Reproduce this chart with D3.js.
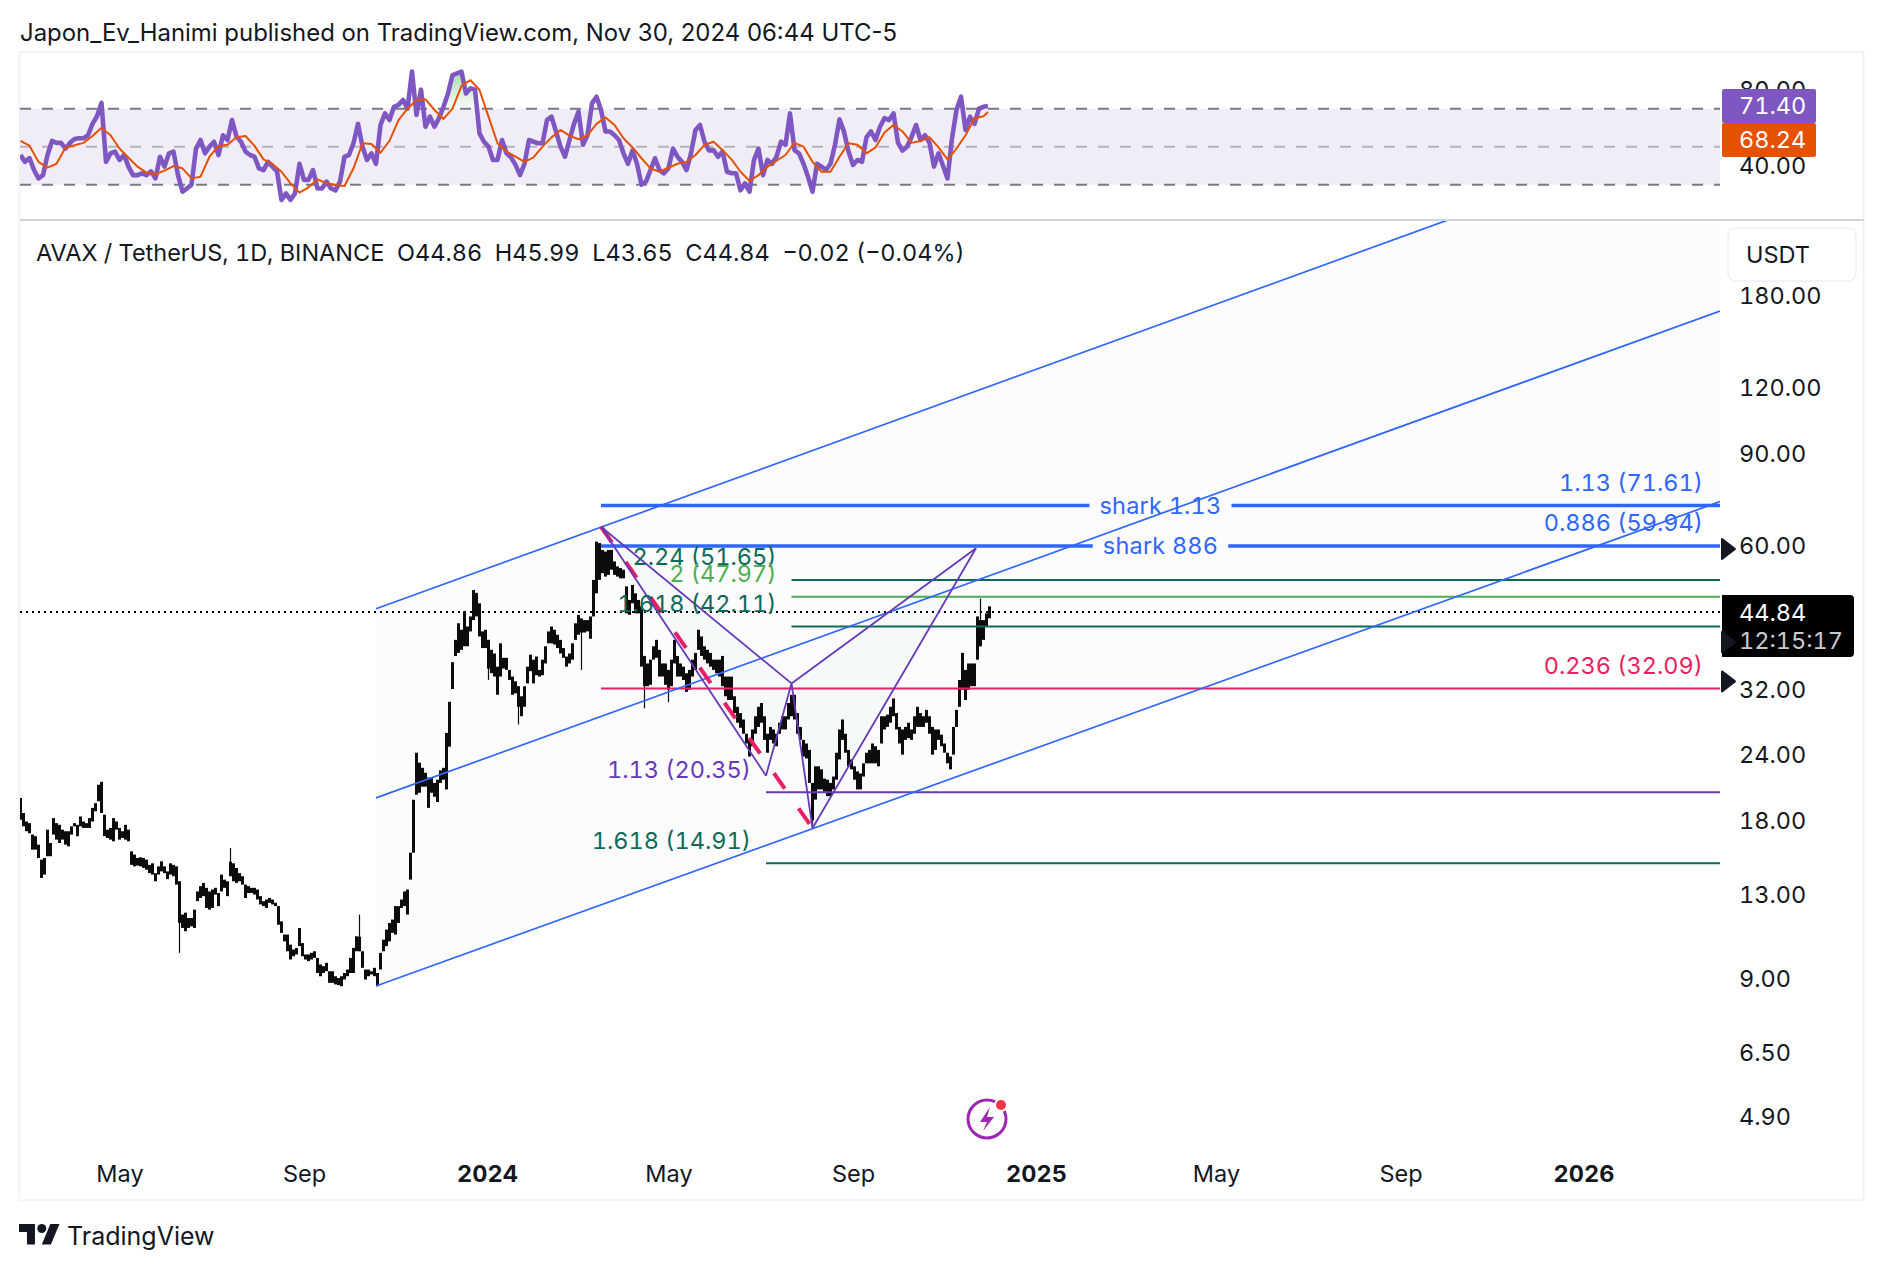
<!DOCTYPE html>
<html><head><meta charset="utf-8">
<script src="https://cdn.jsdelivr.net/npm/d3@7"></script>
<style>
html,body{margin:0;padding:0;background:#fff}
svg{display:block}
text{font-family:Inter,"Noto Sans",sans-serif;fill:#131722;white-space:pre;font-feature-settings:"tnum"}
.tick text{font-family:Inter,"Noto Sans",sans-serif}
</style></head><body><svg id="c" width="1884" height="1270"></svg>
<script>
// ---------- DATA ----------
const priceStart="2023-02-24", priceStepDays=2;
const priceHigh=[
19.85,18.58,17.9,17.77,16.9,16.78,16.17,15.14,15.25,17.27,
16.29,18.17,17.77,17.64,17.27,17.15,17.15,17.52,17.77,17.64,
18.3,17.9,17.77,18.17,19,19.4,21.03,21.3,18.44,17.27,
17.4,18.17,17.9,17.4,17.15,17.64,17.27,15.7,15.48,15.25,
15.3,15.25,15.14,14.8,14.9,14.27,14.7,15.03,14.7,14.38,
14.9,14.8,14.7,13.77,11.9,12,11.72,11.72,12.16,13.17,
13.48,13.67,13.38,13.17,13.28,13.38,13.08,14.18,13.87,13.77,
15.0,14.9,14.6,14.27,14.08,13.57,13.48,13.38,13.38,13.28,
12.9,12.62,12.71,12.8,12.71,12.53,12.35,11.55,10.9,10.9,
10.43,10.21,10.28,11.22,10.5,9.99,9.99,10.06,10.13,9.84,
9.56,9.49,9.63,9.28,9.28,9.08,9.01,9.08,9.21,9.35,
9.84,10.28,10.82,10.8,10.13,9.35,9.35,9.28,9.42,9.21,
10.06,10.66,11.14,11.47,11.64,12.35,12.35,12.71,13.17,13.28,
15.61,19.69,24.2,23.17,22.65,22.16,21.7,21.7,21.2,21.5,
22.4,22.65,26.4,30.26,36,39.7,42.7,41.5,45,42.1,
44,49.4,48.8,46.6,41.2,41.5,39.7,38,37.4,35.3,
39.1,36.7,36.7,34.8,33.8,33.1,32.4,31,32.4,35.3,
37.2,36.4,36.9,34.8,36.4,38.6,41.2,42.1,41.5,40.6,
39.7,38.3,36.9,37.4,39.1,42.7,44.3,43.6,43.3,43.3,
44,51.65,61.1,60.7,58.9,58.5,58.9,58.9,56,54.8,
54.4,54,50.2,47.3,50.5,48.7,47.3,46,37,35.8,
36.4,38.6,39.7,38,35.8,35.8,34.8,36.4,39.7,37,
35.8,35.3,34.3,34.8,36.4,37.5,41.5,40.3,38.6,38,
37.5,36.4,36.4,36.4,37,33.8,33.8,33.8,31,29.6,
28.8,28,26.3,25.6,26.8,28.4,29.6,30.1,28.4,26.3,
27.1,26.8,26.3,27.6,28.4,28.4,30.1,31.2,31.2,28.8,
27.1,25.6,25.2,24.5,21.2,22.8,22.8,22.5,21.6,21.5,
21.2,21.8,24.2,26.8,28,26.3,24.5,23.5,22.8,22.3,
22.1,23.1,24.2,24.5,25.2,24.9,24.5,28.4,28.4,28.6,
29.6,30.7,28.8,27.1,26.8,27.1,27.6,26.8,28.4,29.6,
28.8,28.4,29.2,28.4,27.1,26.8,26.8,26.2,25.2,24.2,
23.8,27.1,29.2,33.3,37.5,34.8,35.8,35.8,35.8,44,
43.3,43.3,44.6,45.99];
const priceLow=[
18.04,17.52,17.15,17.0,15.82,15.82,15.25,13.97,14.18,15.37,
15.37,16.9,16.53,16.29,16.53,16.17,16.05,16.9,17.52,16.78,
17.52,17.4,17.4,17.4,17.9,18.72,19.56,18.58,16.78,16.65,
16.53,16.41,17.27,16.53,16.65,16.53,16.41,14.8,14.7,14.75,
14.7,14.6,14.49,14.27,14.18,13.77,14.18,14.38,14.27,13.9,
14.18,14.08,13.57,11.47,11.22,11.06,11.22,11.3,11.22,12.62,
12.8,12.9,12.25,12.16,12.25,12.99,12.35,13.17,13.38,12.9,
14.08,13.77,13.67,13.77,13.57,12.8,13.08,13.08,12.99,12.71,
12.44,12.35,12.25,12.53,12.44,12.35,11.38,10.98,10.58,10.13,
9.77,9.91,9.99,10.36,9.91,9.77,9.7,9.77,9.84,9.21,
9.08,9.21,9.28,8.82,8.82,8.76,8.73,8.69,8.95,9.08,
9.21,9.21,10.13,10.13,9.42,8.95,9.08,9.15,9.08,8.69,
9.35,10.13,10.36,10.58,10.98,10.9,11.47,12.25,12.35,11.9,
13.87,15.61,20.13,20.3,20.85,20.85,19.0,20.3,19.95,19.5,
21.2,21.5,20.6,24.85,32,37,37.5,38,38.6,38.6,
41.2,43.3,44,40.3,38.3,38.3,35,34.3,33.8,31.2,
33.8,35,34.8,33.3,31.2,31.4,29.6,28.4,29.6,32.8,
34.6,32.8,34,33.8,34,35.8,39.1,39.1,38.9,38.3,
37.4,36.7,35.3,35.8,36.4,39.7,40.6,41,41,41.2,
39.9,44,48.7,51.65,53.2,52.4,52.8,54,52.8,52.4,
52,52,44.6,44.3,46.6,44.6,44.6,35.3,32.4,32.4,
32.6,36.4,36.7,33.8,33.8,32.6,31.9,32.4,35.8,33.8,
33.8,33.3,31.6,31.9,33.8,34.8,38,37,36.4,35.8,
35.3,34.8,34.3,33.8,32.4,31,30.5,30.5,28.8,27.6,
27,26.3,25.2,23.8,24.9,26.3,27.1,27.6,25.6,24.2,
25.6,25.2,24.9,26.3,26.8,26.8,28,28.4,28,26.3,
25.6,23.8,23.6,21.2,18,19.7,20.6,20.6,20.4,20,
20,20.6,21.5,23.5,25.6,24.2,22.8,22.5,21.5,20.6,
20.6,21.8,23.1,23.1,23.1,23.1,22.8,25.2,26.8,27.1,
27.6,28.4,26.8,25.2,24,25.6,25.8,25.6,26.3,27.1,
27.1,27.1,27.6,26.3,24,24.5,25.6,24.9,24.2,23.1,
22.5,24,27.1,29.6,31.9,30.5,31.9,32.4,32.4,36.4,
38.6,39.7,42.1,43.65];
const wickBar=[53,70,113,156,166,187,208,216,264,320];
const wickHigh=[13.77,15.93,11.9,39.7,32.4,43.6,37,34.8,21.2,47.6];
const wickLow=[10.06,14.08,10.13,33.3,27.4,34.8,29.4,30.2,17.4,38.6];
const lastClose=44.84;

const rsiStepDays=3;
const rsiValues=[
45.6,42,44,37.7,33.3,35,45.6,53,52,52,49,52,54,54.4,54.4,56,62,66,73,42,
46.5,47.4,43,45.6,39.5,35,35,36,35,37,33.3,44.7,39.5,46.5,47.4,35,26.3,28,30,49,
53.5,46.5,50,52.6,45.6,56,53.5,64,55.3,52.6,47.4,45.6,44.7,38.6,37.7,42,39.5,37,22,25.4,
22,25.4,41,32.5,32.5,37.7,28,28,31.6,28,27,31.6,44.7,45.6,51.8,62,50,43,46.5,41,
61.4,67.5,64,71,72,74.6,70,89.5,66.7,80,60.5,65.8,60.5,65,71,78,87.7,88.6,89.5,78,
80.7,80,57,52.6,50,43,43,53.5,46.5,44.4,40.4,35,41,53.5,52.6,51.8,51.8,64,65.8,58,
50,44.7,53.5,62,68.4,51,56,72.8,76.3,69.3,58,58,56,53.5,46.5,41,48,41,30,31.6,
37.7,43.9,37.7,36,38.6,49,44.7,42,37.7,46.5,58.8,61.4,52.6,48,48.2,44.7,47.4,36.8,36,36,
27,30.7,26.3,43,49,35,43,41,44.7,52.6,51,67.5,48.2,46.5,41,34.2,26.3,41,39.5,37.7,
41,51,64.4,57.9,47.4,40.4,43,42,55,58,53.5,60.5,65,64,67.5,52,48,50,55,61.4,
53.5,56,52,39.5,46.5,40,33.3,54.4,69.3,76.3,58.8,65.8,62,70,71,71.4];
const maStepDays=6;
const rsiMaValues=[
53,50.5,42,39,41,49.6,50.7,52,55.6,60,56,49,44.2,39.5,36.3,35.6,37.4,39.8,38.6,33.3,
34.2,44.7,50.4,51,55,55.6,50.4,43.3,40.9,36.8,30.7,25.8,28.6,32.8,30.7,29.8,29.3,38.6,51.8,51.4,
46.8,53,64,70,74.6,74.9,69.3,64.6,70,82,85,79.8,65.8,51.8,47.4,44.7,42,44.4,50,54.9,
58.8,55.8,53.9,56,62,65.4,61.4,54.4,49.6,43.9,38.6,36.8,38.9,41,42,45.6,50.9,52.6,48.2,43.3,
36.8,32,35,39.5,42.6,45.6,52,50,42,36.8,36.8,44.7,51.8,51,46.5,49.6,57.4,61.4,58,52,
53,55,49.6,43.3,49,56,65,66];
const rsiLast=71.40, rsiMaLast=68.24, lastDate="2024-11-30";
const rsiLevels=[70,50,30];
const rsiTicks=[80,40];

const priceTicks=[180,120,90,60,32,24,18,13,9,6.5,4.9];
const timeTicks=["2023-05-01","2023-09-01","2024-01-01","2024-05-01","2024-09-01","2025-01-01","2025-05-01","2025-09-01","2026-01-01"];

const channelDates=["2023-10-19","2026-04-02"];
const channelTop=[45.5,386];
const channelMid=[19.85,168];
const channelBottom=[8.70,72.8];

const patternDates=["2024-03-17","2024-07-05","2024-07-22","2024-08-05","2024-11-22"];
const patternPrices=[65.2,21.88,32.8,17.38,59.34];

const levelPrice=[71.61,59.94,51.65,47.97,42.11,32.09,20.35,14.91];
const levelRatio=["1.13","0.886","2.24","2","1.618","0.236","1.13","1.618"];
const levelStart=["2024-03-17","2024-03-17","2024-07-22","2024-07-22","2024-07-22","2024-03-17","2024-07-05","2024-07-05"];
const levelLabelRight=[true,true,false,false,false,true,false,false];
const sharkNames=["shark 1.13","shark 886"];
const sharkPrices=[71.61,59.94];
const sharkDate="2025-03-25";
const headerText="Japon_Ev_Hanimi published on TradingView.com, Nov 30, 2024 06:44 UTC-5";
const legendText="AVAX / TetherUS, 1D, BINANCE  O44.86  H45.99  L43.65  C44.84  −0.02 (−0.04%)";

// ---------- LAYOUT / STYLE ----------
const L=20,R=1720,FR=1864,TOP=53,SEP=220,BOT=1199,PB=1160;
const levelColor=["#2f66ff","#2f66ff","#0d6a58","#4caf50","#0d6a58","#e91e63","#673ab7","#0d6a58"];
const fs=23.5;
const d=s=>new Date(s+"T00:00:00Z");
const svg=d3.select("#c");
const x=d3.scaleUtc().domain([d(priceStart),d("2026-04-02")]).range([L+0.5,R]);
const y=d3.scaleLog().domain([4.055,249.3]).range([PB,221]);
const ry=d3.scaleLinear().domain([11.4,99.3]).range([SEP,TOP]);
const add=(s,n)=>d3.utcDay.offset(d(s),n);
const T=(sel,px,py,str,o={})=>sel.append("text").attr("x",px).attr("y",py).attr("dy",".36em")
  .attr("text-anchor",o.a||"start").attr("font-size",o.s||fs).attr("font-weight",o.w||400)
  .style("fill",o.c||"#131722").style("letter-spacing",o.ls||null).style("font-feature-settings",o.pf?"normal":null).text(str);

const defs=svg.append("defs");
defs.append("clipPath").attr("id","plot").append("rect").attr("x",L).attr("y",221).attr("width",R-L).attr("height",PB-221);
defs.append("clipPath").attr("id","rsi").append("rect").attr("x",L).attr("y",TOP).attr("width",R-L).attr("height",SEP-TOP);
const grad=defs.append("linearGradient").attr("id","ob").attr("x1",0).attr("x2",0).attr("y1",0).attr("y2",1);
grad.append("stop").attr("offset",0).attr("stop-color","#66bb6a").attr("stop-opacity",.55);
grad.append("stop").attr("offset",1).attr("stop-color","#66bb6a").attr("stop-opacity",.03);

// header + frame
T(svg,20,32,headerText,{s:23.95,pf:true});
svg.append("rect").attr("x",L-0.5).attr("y",TOP-1).attr("width",FR-L).attr("height",BOT-TOP+2).attr("fill","none").attr("stroke","#f0f3fa").attr("stroke-width",2);
svg.append("line").attr("x1",L).attr("x2",FR).attr("y1",SEP).attr("y2",SEP).attr("stroke","#d1d4dc").attr("stroke-width",2);

// RSI pane
const rsiG=svg.append("g");
rsiG.append("rect").attr("x",L).attr("width",R-L).attr("y",ry(70)).attr("height",ry(30)-ry(70)).attr("fill","#f0edf8");
rsiG.selectAll("line.lv").data(rsiLevels).join("line").attr("class","lv").attr("x1",L).attr("x2",R)
  .attr("y1",ry).attr("y2",ry).attr("stroke-width",2).attr("stroke-dasharray","11 11")
  .attr("stroke",v=>v===50?"#b4b3bd":"#787b86");
const rsiData=rsiValues.map((v,i)=>({t:add(priceStart,i*rsiStepDays),v}));
const obData=rsiData.slice(94,102);
rsiG.append("path").datum(obData).attr("fill","url(#ob)")
  .attr("d",d3.area().x(p=>x(p.t)).y0(ry(70)).y1(p=>ry(Math.max(p.v,70))));
const rsiLine=d3.line().x(p=>x(p.t)).y(p=>ry(p.v));
const rG=rsiG.append("g").attr("clip-path","url(#rsi)");
rG.append("path").datum(rsiData).attr("fill","none").attr("stroke","#7e57c2").attr("stroke-width",4.6).attr("stroke-linejoin","round").attr("d",rsiLine);
const maData=rsiMaValues.map((v,i)=>({t:add(priceStart,i*maStepDays),v})).concat([{t:d(lastDate),v:rsiMaLast}]);
rG.append("path").datum(maData).attr("fill","none").attr("stroke","#e65100").attr("stroke-width",2).attr("stroke-linejoin","round").attr("d",rsiLine);
const rAxis=svg.append("g").attr("transform",`translate(${R},0)`)
  .call(d3.axisRight(ry).tickValues(rsiTicks).tickSize(0).tickPadding(19).tickFormat(d3.format(".2f")));
rAxis.select(".domain").remove();
rAxis.selectAll("text").attr("font-size",fs).attr("dy",".34em");
const tag=(y0,y1,c,str)=>{svg.append("rect").attr("x",R+2).attr("y",y0).attr("width",94).attr("height",y1-y0).attr("rx",2).attr("fill",c);
  T(svg,R+19,(y0+y1)/2,str,{c:"#fff"});};
tag(ry(rsiLast)-17,ry(rsiLast)+17,"#7e57c2",rsiLast.toFixed(2));
tag(ry(rsiLast)+17,ry(rsiLast)+51,"#e65100",rsiMaLast.toFixed(2));

// main pane
const P=svg.append("g").attr("clip-path","url(#plot)");
const chPoly=[0,1].map(i=>[x(d(channelDates[i])),y(channelTop[i])]).concat([1,0].map(i=>[x(d(channelDates[i])),y(channelBottom[i])]));
P.append("polygon").attr("points",chPoly.join(" ")).attr("fill","#fcfcff");
const pat=patternDates.map((s,i)=>[x(d(s)),y(patternPrices[i])]);
[[0,1,2],[2,3,4]].forEach(tr=>P.append("polygon").attr("points",tr.map(i=>pat[i]).join(" ")).attr("fill","#f5f9fa"));

// candles
const barX=i=>x(add(priceStart,i*priceStepDays));
P.selectAll("line.bar").data(priceHigh).join("line").attr("class","bar")
  .attr("x1",(v,i)=>barX(i)).attr("x2",(v,i)=>barX(i)).attr("y1",v=>y(v)).attr("y2",(v,i)=>y(priceLow[i]))
  .attr("stroke","#0c0c0e").attr("stroke-width",3);
P.selectAll("line.wick").data(wickBar).join("line").attr("class","wick")
  .attr("x1",b=>barX(b)).attr("x2",b=>barX(b)).attr("y1",(b,i)=>y(wickHigh[i])).attr("y2",(b,i)=>y(wickLow[i]))
  .attr("stroke","#0c0c0e").attr("stroke-width",1.2);

// last price line
P.append("line").attr("x1",L).attr("x2",R).attr("y1",y(lastClose)).attr("y2",y(lastClose)).attr("stroke","#000").attr("stroke-width",2).attr("stroke-dasharray","2 4");

// levels (not shark)
levelPrice.forEach((p,i)=>{
  if(i<2) return;
  P.append("line").attr("x1",x(d(levelStart[i]))).attr("x2",R).attr("y1",y(p)).attr("y2",y(p)).attr("stroke",levelColor[i]).attr("stroke-width",2);
});
// shark lines with a gap for their text
sharkNames.forEach((nm,i)=>{
  const py=y(sharkPrices[i]), cx=x(d(sharkDate));
  const t=T(P,cx,py,nm,{a:"middle",c:"#2f66ff",ls:"0.2px"});
  const w=t.node().getComputedTextLength();
  [[x(d(levelStart[i])),cx-w/2-10],[cx+w/2+10,R]].forEach(s=>
    P.append("line").attr("x1",s[0]).attr("x2",s[1]).attr("y1",py).attr("y2",py).attr("stroke","#2f66ff").attr("stroke-width",3.5));
});
// channel lines
[channelTop,channelMid,channelBottom].forEach(c=>P.append("line")
  .attr("x1",x(d(channelDates[0]))).attr("y1",y(c[0])).attr("x2",x(d(channelDates[1]))).attr("y2",y(c[1]))
  .attr("stroke","#2f66ff").attr("stroke-width",1.7));
// pink dashed
P.append("line").attr("x1",pat[0][0]).attr("y1",pat[0][1]).attr("x2",pat[3][0]).attr("y2",pat[3][1])
  .attr("stroke","#e91e63").attr("stroke-width",4).attr("stroke-dasharray","19 24");
// pattern lines
[[0,1],[1,2],[0,2],[2,3],[3,4],[2,4]].forEach(([a,b])=>P.append("line")
  .attr("x1",pat[a][0]).attr("y1",pat[a][1]).attr("x2",pat[b][0]).attr("y2",pat[b][1])
  .attr("stroke","#673ab7").attr("stroke-width",1.8));
// level labels
levelPrice.forEach((p,i)=>{
  const ex=levelLabelRight[i]?R-17:x(d(levelStart[i]))-15;
  T(P,ex,y(p)-23,`${levelRatio[i]} (${p.toFixed(2)})`,{a:"end",c:levelColor[i]});
});

// legend
T(svg,36,253,legendText,{s:23.5});
// axes
const pAxis=svg.append("g").attr("transform",`translate(${R},0)`)
  .call(d3.axisRight(y).tickValues(priceTicks).tickSize(0).tickPadding(19).tickFormat(d3.format(".2f")));
pAxis.select(".domain").remove();
pAxis.selectAll("text").attr("font-size",fs).attr("dy",".34em");
const tAxis=svg.append("g").attr("transform","translate(0,1165.5)")
  .call(d3.axisBottom(x).tickValues(timeTicks.map(d)).tickSize(0).tickPadding(0)
    .tickFormat(t=>t.getUTCMonth()===0?d3.utcFormat("%Y")(t):d3.utcFormat("%b")(t)));
tAxis.select(".domain").remove();
tAxis.selectAll("text").attr("font-size",fs).attr("font-weight",t=>t.getUTCMonth()===0?700:400);

// USDT button
svg.append("rect").attr("x",1728).attr("y",228).attr("width",128).attr("height",53).attr("rx",8).attr("fill","#fff").attr("stroke","#f0f3fa").attr("stroke-width",2);
T(svg,1746,255,"USDT");
// last price box & arrows
const arrow=(py,c)=>svg.append("path").attr("d",`M${R+2} ${py-10}L${R+15} ${py}L${R+2} ${py+10}Z`).attr("fill",c).attr("stroke",c).attr("stroke-width",2).attr("stroke-linejoin","round");
arrow(y(59.94)+3,"#131722");arrow(y(32.09)-7,"#131722");
const by=y(lastClose)-17;
svg.append("path").attr("d",`M${R+2} ${by}H1850a4 4 0 0 1 4 4V${by+58}a4 4 0 0 1 -4 4H${R+2}Z`).attr("fill","#000");
arrow(by+47,"#131722");
T(svg,R+19,y(lastClose),lastClose.toFixed(2),{c:"#fff"});
T(svg,R+19,y(lastClose)+28,"12:15:17",{c:"#c8cad0"});

// bolt icon
const ic=svg.append("g").attr("transform","translate(987,1119)");
ic.append("circle").attr("r",19).attr("fill","#fff").attr("stroke","#9c27b0").attr("stroke-width",3);
ic.append("path").attr("d","M3 -12L-7 3H0L-4 12L7 -2H0Z").attr("fill","#9c27b0");
ic.append("circle").attr("cx",14).attr("cy",-14).attr("r",7).attr("fill","#fff");
ic.append("circle").attr("cx",14).attr("cy",-14).attr("r",5).attr("fill","#f23645");

// TradingView logo
svg.append("path").attr("transform","translate(19,1219.4) scale(1.14)").attr("fill","#131722")
  .attr("d","M14 22H7V11H0V4h14v18zM28 22h-8l7.5-18h8L28 22z");
svg.append("circle").attr("cx",19+20*1.14).attr("cy",1219.4+8*1.14).attr("r",4.5).attr("fill","#131722");
T(svg,67,1236,"TradingView",{s:25,pf:true});
</script></body></html>
